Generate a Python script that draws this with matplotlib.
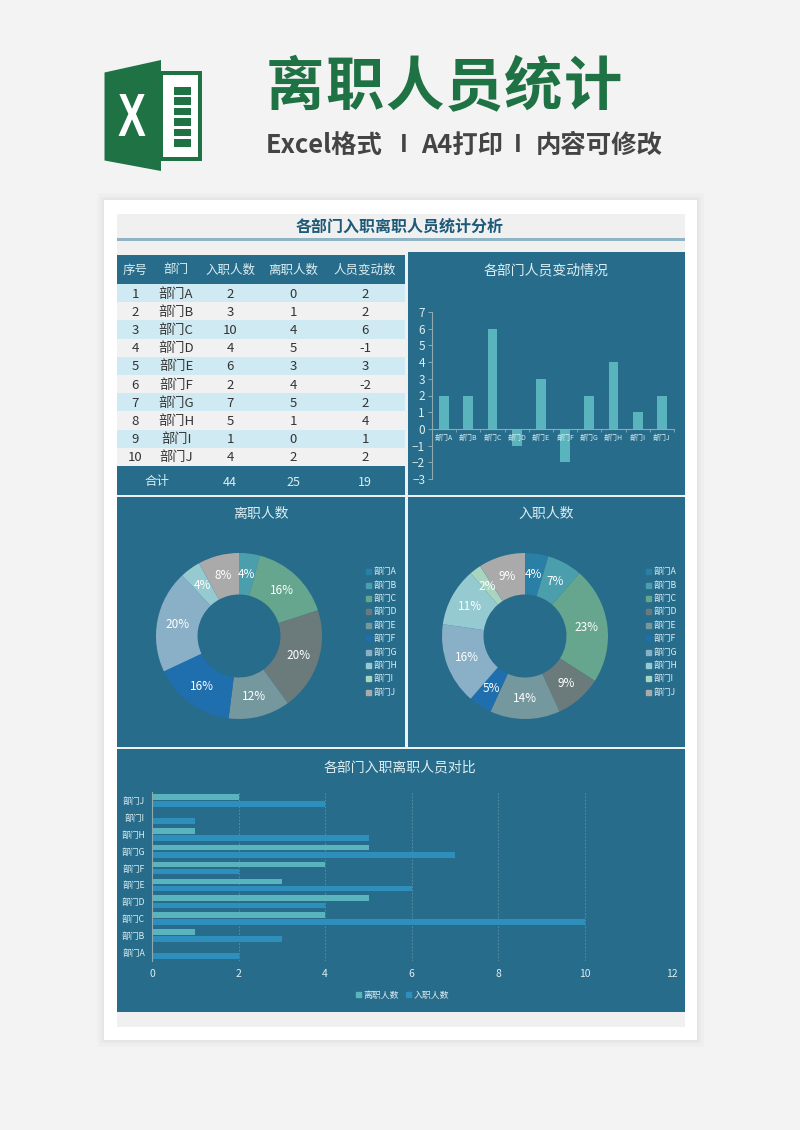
import matplotlib
matplotlib.use("Agg")
import matplotlib.pyplot as plt
from matplotlib.patches import Rectangle, Polygon, PathPatch
from matplotlib.lines import Line2D
from matplotlib.textpath import TextPath
from matplotlib.font_manager import FontProperties
from matplotlib.transforms import Affine2D
import numpy as np

plt.rcParams['font.family'] = ['Noto Sans CJK SC', 'DejaVu Sans']

# data
depts = ["部门A", "部门B", "部门C", "部门D", "部门E", "部门F", "部门G", "部门H", "部门I", "部门J"]
hired = [2, 3, 10, 4, 6, 2, 7, 5, 1, 4]
left_staff = [0, 1, 4, 5, 3, 4, 5, 1, 0, 2]
change = [2, 2, 6, -1, 3, -2, 2, 4, 1, 2]
left_pct = [0, 4, 16, 20, 12, 16, 20, 4, 0, 8]
hired_pct = [4, 7, 23, 9, 14, 5, 16, 11, 2, 9]
table_head = ["序号", "部门", "入职人数", "离职人数", "人员变动数"]
totals = ["合计", "44", "25", "19"]

# colours
PANEL = "#276c8b"
LIGHT = "#dceef2"
TEAL = "#5ab4bd"
BLUE = "#2e8fbc"
AXIS = "#8fa9ae"
slice_colors = ["#2a7fa6", "#4b9fac", "#66a68e", "#6b7b7c", "#75989f",
                "#1f6fae", "#8ab0c8", "#95cbd0", "#a8d5c0", "#aaaaaa"]

W, H = 800, 1130
fig = plt.figure(figsize=(W / 100, H / 100), dpi=100, facecolor="#f3f3f3")


def px_axes(x0, y0, x1, y1):
    # axes from pixel box, y counted from the top
    return fig.add_axes([x0 / W, 1 - y1 / H, (x1 - x0) / W, (y1 - y0) / H])


bg = fig.add_axes([0, 0, 1, 1])
bg.set_xlim(0, W)
bg.set_ylim(H, 0)
bg.axis("off")


def box(x0, y0, x1, y1, color, **kw):
    bg.add_patch(Rectangle((x0, y0), x1 - x0, y1 - y0, facecolor=color, edgecolor="none", **kw))


# soft shadow and sheet
for grow, shade in [(7, "#efefef"), (4, "#ebebeb"), (2, "#e6e6e6")]:
    box(104 - grow, 200 - grow, 697 + grow, 1040 + grow, shade)
box(104, 200, 697, 1040, "white")
box(117, 214, 685, 1027, "#f0f0f0")

# excel logo
GREEN = "#1f7244"
box(160, 71, 202, 161, GREEN)
box(163, 75, 198, 157, "white")
for k in range(6):
    box(173.5, 87 + k * 10.4, 190.5, 87 + k * 10.4 + 7.6, GREEN)
bg.add_patch(Polygon([(104.5, 72.5), (161, 60), (161, 171), (104.5, 160.5)], facecolor=GREEN, edgecolor="none"))
x_path = TextPath((0, 0), "X", size=40, prop=FontProperties(family="Liberation Sans", weight="bold"))
bb = x_path.get_extents()
x_tf = Affine2D().translate(-bb.x0 - bb.width / 2, -bb.y0 - bb.height / 2).scale(27 / bb.width, -42 / bb.height).translate(132, 115)
bg.add_patch(PathPatch(x_path, facecolor="white", edgecolor="none", transform=x_tf + bg.transData))

# page heading
for i, ch in enumerate("离职人员统计"):
    bg.text(295 + i * 59.6, 88, ch, color=GREEN, fontsize=42, fontweight="heavy", ha="center", va="center")
bg.text(266, 145, "Excel格式", color="#444444", fontsize=18.3, fontweight="bold", ha="left", va="center")
bg.text(404, 145, "I", color="#444444", fontsize=17, fontweight="bold", ha="center", va="center")
bg.text(421, 145, "A4打印", color="#444444", fontsize=18.3, fontweight="bold", ha="left", va="center")
bg.text(518, 145, "I", color="#444444", fontsize=17, fontweight="bold", ha="center", va="center")
bg.text(536, 145, "内容可修改", color="#444444", fontsize=18.3, fontweight="bold", ha="left", va="center")

# sheet title
bg.text(400, 227, "各部门入职离职人员统计分析", color="#1c5a78", fontsize=11.5, fontweight="bold",
        ha="center", va="center")
box(117, 238, 685, 241, "#8fb4c4")

# table
col_x = [135, 176, 230, 293, 365]
box(117, 255, 405, 284, PANEL)
for x, t in zip(col_x, table_head):
    bg.text(x, 270, t, color=LIGHT, fontsize=9, ha="center", va="center")
row_h = 18.2
for i in range(10):
    top = 284 + i * row_h
    box(117, top, 405, top + row_h, "#d0eaf3" if i % 2 == 0 else "#f1f1f1")
    row = [str(i + 1), depts[i], str(hired[i]), str(left_staff[i]), str(change[i])]
    for x, t in zip(col_x, row):
        bg.text(x, top + row_h / 2 + 1, t, color="#333333", fontsize=9.5, ha="center", va="center")
box(117, 466, 405, 495, PANEL)
for x, t in zip([157, 230, 293, 365], totals):
    bg.text(x, 482, t, color=LIGHT, fontsize=9, ha="center", va="center")

# panels
box(408, 252, 685, 495, PANEL)
box(117, 497, 405, 747, PANEL)
box(408, 497, 685, 747, PANEL)
box(117, 749, 685, 1012, PANEL)
bg.text(546, 270, "各部门人员变动情况", color=LIGHT, fontsize=10, ha="center", va="center")
bg.text(261, 514, "离职人数", color=LIGHT, fontsize=10, ha="center", va="center")
bg.text(546, 514, "入职人数", color=LIGHT, fontsize=10, ha="center", va="center")
bg.text(400, 767, "各部门入职离职人员对比", color=LIGHT, fontsize=10, ha="center", va="center")

# change bars
ax = px_axes(432, 312, 674, 479)
ax.patch.set_alpha(0)
ax.bar(range(10), change, width=0.4, color=TEAL)
ax.set_xlim(-0.5, 9.5)
ax.set_ylim(-3, 7)
ax.set_yticks(range(-3, 8))
ax.set_xticks(np.arange(-0.5, 10, 1))
ax.set_xticklabels([])
ax.tick_params(axis="y", colors=LIGHT, labelsize=8.5, length=3, width=0.7, color=AXIS, pad=2)
ax.tick_params(axis="x", length=2, width=0.6, color=AXIS, direction="out")
for s in ["top", "right"]:
    ax.spines[s].set_visible(False)
ax.spines["left"].set_color(AXIS)
ax.spines["bottom"].set_color(AXIS)
ax.spines["bottom"].set_position(("data", 0))
for i, d in enumerate(depts):
    ax.text(i, -0.52, d, color=LIGHT, fontsize=5, ha="center", va="center")


def donut(cx, cy, values, pcts, legend_x):
    R = 83
    a = px_axes(cx - R, cy - R, cx + R, cy + R)
    a.patch.set_alpha(0)
    wedges, _ = a.pie(values, colors=slice_colors, radius=1, startangle=90, counterclock=False,
                      wedgeprops=dict(width=0.5, linewidth=0))
    a.set_xlim(-1, 1)
    a.set_ylim(-1, 1)
    for w, v, p in zip(wedges, values, pcts):
        if v == 0:
            continue
        mid = np.radians((w.theta1 + w.theta2) / 2)
        a.text(0.75 * np.cos(mid), 0.75 * np.sin(mid), f"{p}%", color="white", fontsize=8.5,
               ha="center", va="center")
    handles = [Line2D([], [], linestyle="none", marker="s", markersize=3.6, color=c) for c in slice_colors]
    fig.legend(handles, depts, loc="center left", bbox_to_anchor=(legend_x / W, 1 - 632 / H),
               frameon=False, fontsize=6.3, labelcolor=LIGHT, labelspacing=0.5,
               handletextpad=0.05, borderpad=0, handlelength=1.2)


donut(239, 636, left_staff, left_pct, 358)
donut(525, 636, hired, hired_pct, 638)

# compare bars
ax2 = px_axes(152, 792, 671.6, 961)
ax2.patch.set_alpha(0)
ax2.set_axisbelow(True)
pos = np.arange(10)
ax2.barh(pos + 0.21, left_staff, height=0.34, color=TEAL, label="离职人数")
ax2.barh(pos - 0.21, hired, height=0.34, color=BLUE, label="入职人数")
ax2.set_xlim(0, 12)
ax2.set_ylim(-0.5, 9.5)
ax2.set_xticks(range(0, 13, 2))
ax2.set_yticks(pos)
ax2.set_yticklabels(depts)
ax2.tick_params(axis="x", colors=LIGHT, labelsize=7.5, length=0, pad=6)
ax2.tick_params(axis="y", colors=LIGHT, labelsize=6.3, length=0, pad=5)
ax2.grid(axis="x", color="#5f92a8", linestyle=(0, (2, 2)), linewidth=0.6)
for s in ["top", "right", "bottom"]:
    ax2.spines[s].set_visible(False)
ax2.spines["left"].set_color(AXIS)
leg_handles = [Line2D([], [], linestyle="none", marker="s", markersize=3.6, color=c) for c in [TEAL, BLUE]]
fig.legend(leg_handles, ["离职人数", "入职人数"], loc="center", bbox_to_anchor=(401 / W, 1 - 995 / H),
           ncol=2, frameon=False, fontsize=6.4, labelcolor=LIGHT, columnspacing=0.4,
           handletextpad=0.05, handlelength=1.2, borderpad=0)

fig.savefig("out.png", dpi=100, facecolor=fig.get_facecolor())
